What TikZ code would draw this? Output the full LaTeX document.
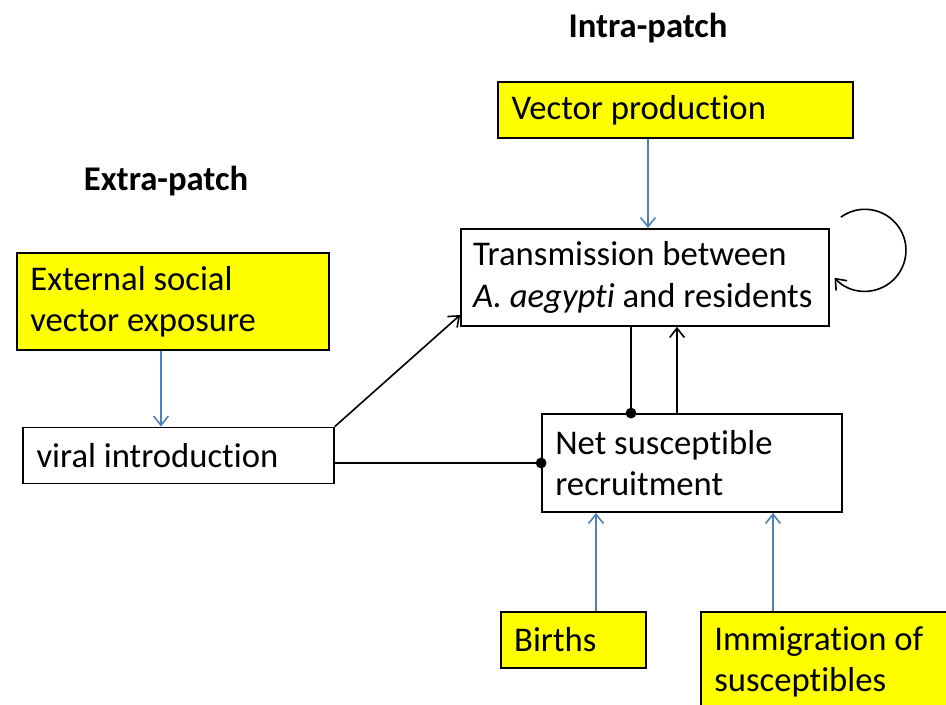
\documentclass[tikz,border=0pt]{standalone}
\usepackage{fontspec}
\setmainfont{Carlito}[Ligatures=NoCommon]
\usetikzlibrary{arrows.meta}
\definecolor{srcyellow}{RGB}{255,255,0}
\definecolor{linkblue}{RGB}{79,129,189}

\begin{document}
\begin{tikzpicture}[
    x=0.75pt, y=-0.75pt,
    font=\fontsize{26}{31}\selectfont,
    box/.style={draw, line width=1.3pt, align=flush left, inner xsep=10pt, fill=white},
    src/.style={box, fill=srcyellow},
    head/.style={font=\fontsize{26}{31}\selectfont\bfseries},
    feed/.style={-{Straight Barb[length=7pt, width=11pt]}, line width=1.2pt, draw=linkblue},
    arr/.style={-{Straight Barb[length=7pt, width=11pt]}, line width=1.2pt},
    link/.style={-{Circle[length=8pt]}, shorten >=-4pt, line width=1.2pt}
]
\clip (0,0) rectangle (946,705);
\node[head] (intra) at (648,28) {Intra-patch};
\node[head] (extra) at (166,181) {Extra-patch};
\node[src, text width=246pt, minimum height=42pt] (vprod) at (675.5,110) {Vector production};
\node[box, text width=258pt, inner xsep=9pt, minimum height=72.75pt] (trans) at (645,277.5) {Transmission between\\\textit{A. aegypti} and residents};
\node[src, text width=214pt, minimum height=72.75pt] (ext) at (173,301.5) {External social\\vector exposure};
\node[box, text width=213pt, minimum height=42pt] (viral) at (178.5,455.5) {viral introduction};
\node[box, text width=205pt, minimum height=73.5pt] (net) at (692,463) {Net susceptible\\recruitment};
\node[src, text width=89pt, minimum height=42pt] (births) at (573.5,640) {Births};
\node[src, text width=175pt, minimum height=75pt] (immig) at (831,662) {Immigration of\\susceptibles};

\draw[feed] (648,0 |- vprod.south) -- (648,0 |- trans.north);
\draw[feed] (161,0 |- ext.south) -- (161,0 |- viral.north);
\draw[feed] (596,0 |- births.north) -- (596,0 |- net.south);
\draw[feed] (773,0 |- immig.north) -- (773,0 |- net.south);
\draw[arr] (viral.north east) -- (trans.west |- 0,315);
\draw[link] (viral.east |- net.west) -- (net.west);
\draw[link] (631,0 |- trans.south) -- (631,0 |- net.north);
\draw[arr] (677,0 |- net.north) -- (677,0 |- trans.south);
\draw[arr] (trans.north east) ++(11,-11) arc[start angle=-126, end angle=138, radius=41];
\end{tikzpicture}
\end{document}
